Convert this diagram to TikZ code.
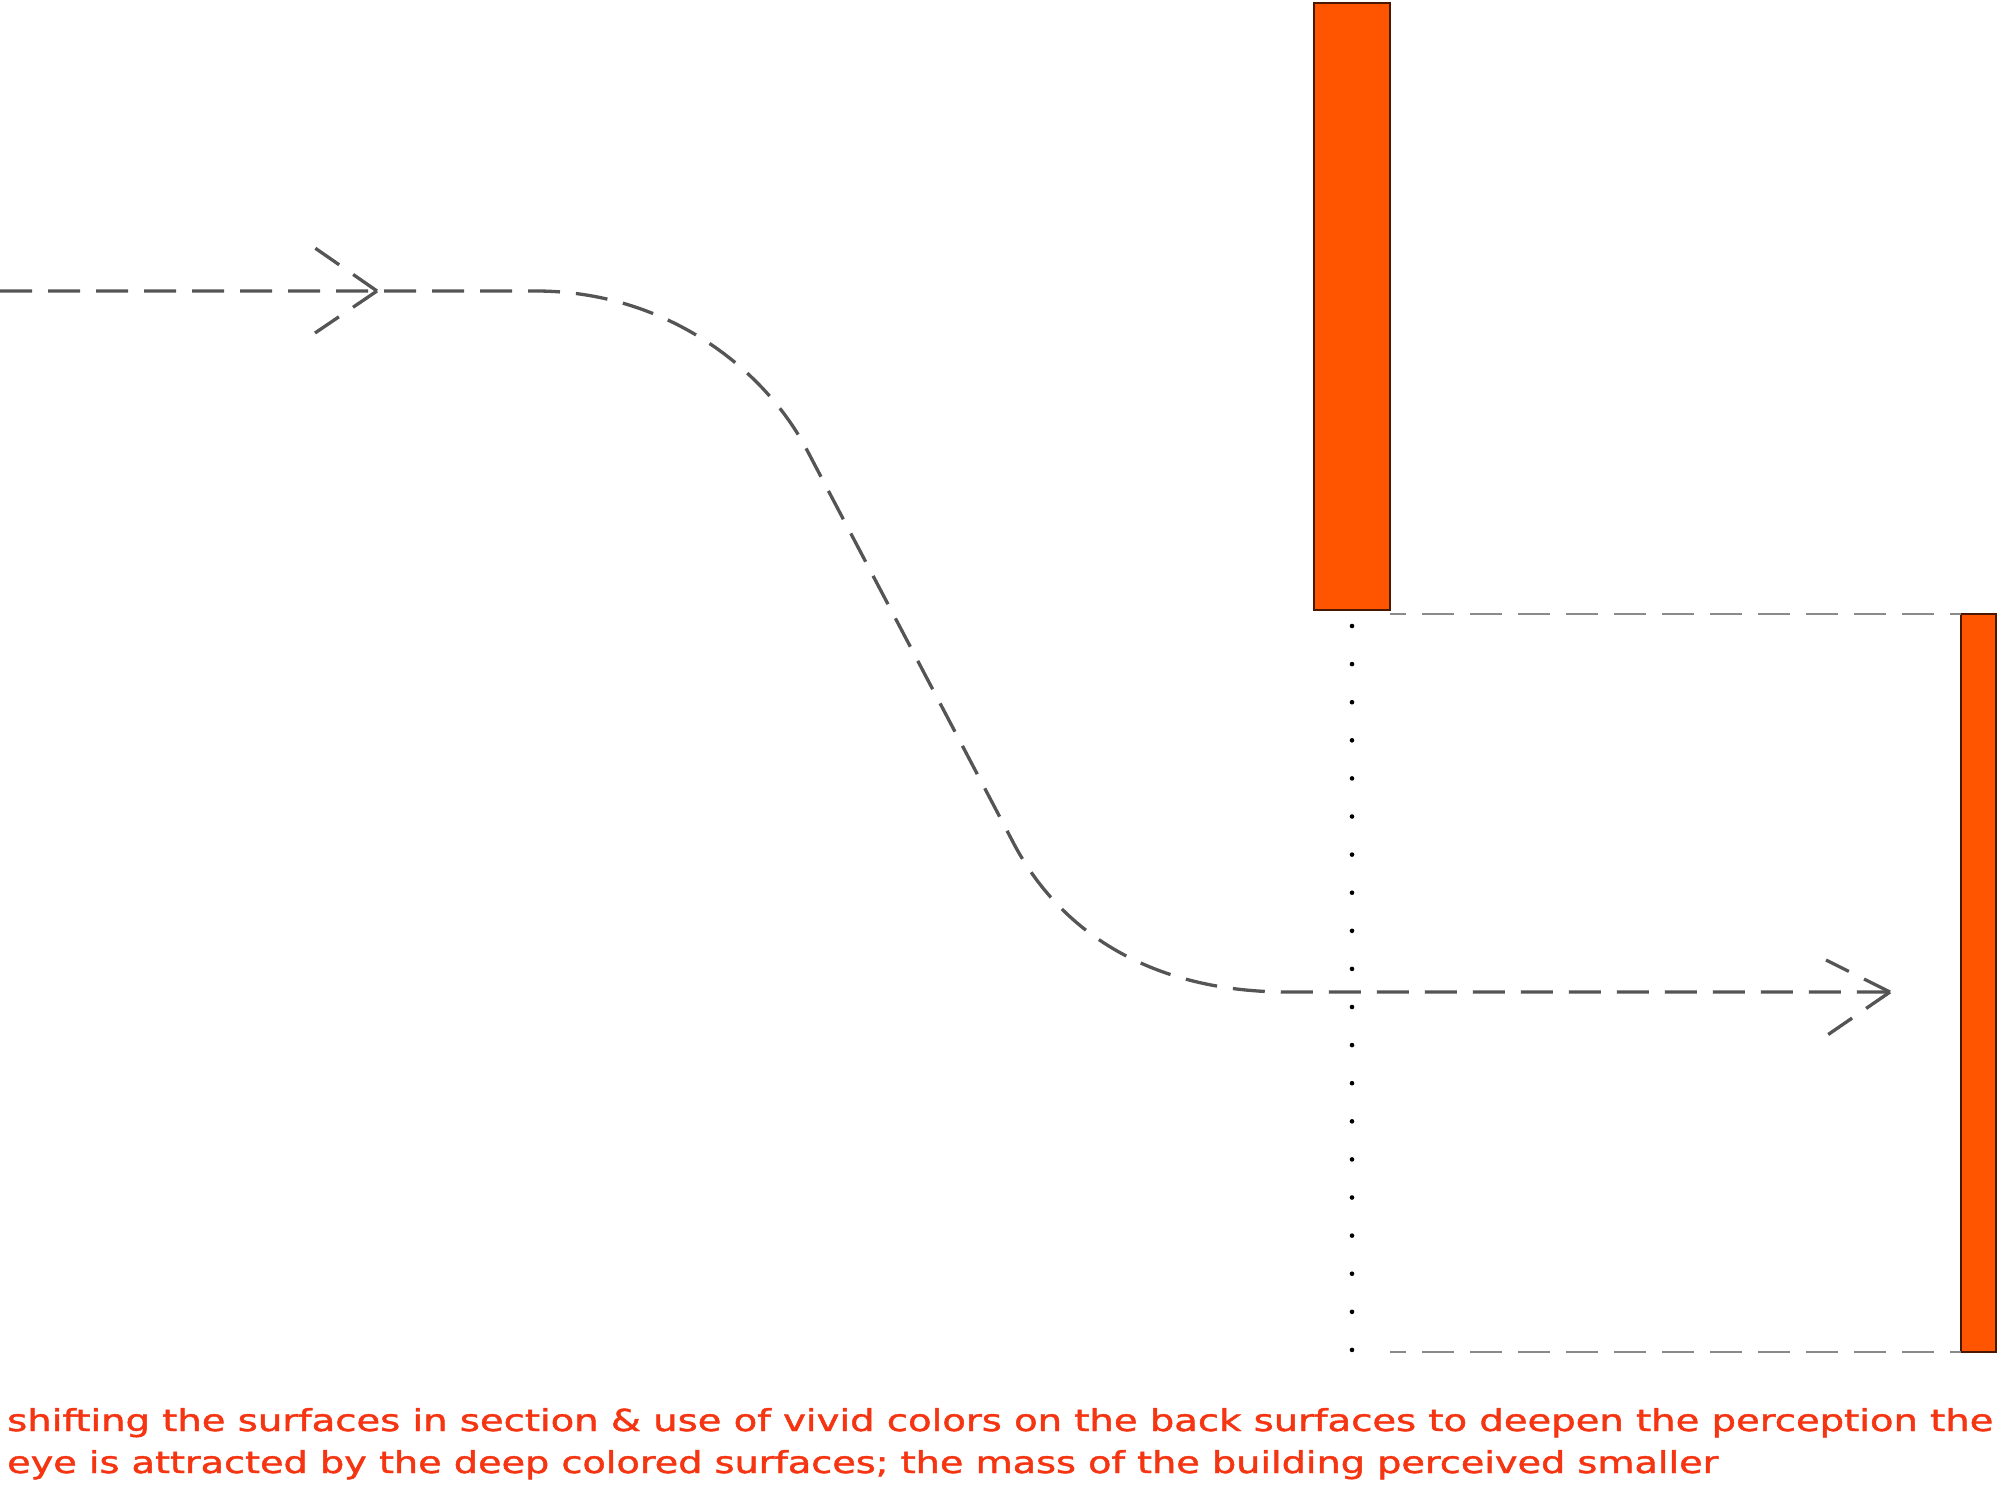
\documentclass[tikz,border=0pt]{standalone}
\usepackage{fontspec}
\newfontfamily\capfont[FakeBold=1.3]{DejaVu Sans}
\definecolor{vivid}{HTML}{FF5500}
\definecolor{rim}{HTML}{4A1800}
\definecolor{pathgray}{HTML}{555555}
\definecolor{guidegray}{HTML}{8A8A8A}
\definecolor{captext}{RGB}{245,52,18}
\tikzset{
  wall/.style={fill=vivid, draw=rim, line width=1.3pt},
  route/.style={draw=pathgray, line width=3.3pt, dash pattern=on 32pt off 16pt},
  tipline/.style={draw=pathgray, line width=3.3pt, dash pattern=on 29pt off 17pt},
  guide/.style={draw=guidegray, line width=1.5pt, dash pattern=on 32pt off 16pt, dash phase=16pt},
  dotmark/.style={fill=black},
  caption/.style={anchor=base west, inner sep=0pt, text=captext, font=\capfont}
}
\begin{document}
\begin{tikzpicture}[x=1pt,y=-1pt]
\useasboundingbox (0,0) rectangle (2000,1484);
% walls
\draw[wall] (1314,3) rectangle (1390,610);
\draw[wall] (1961,614) rectangle (1996,1352);
% guide lines
\coordinate (g1a) at (1390,614);
\coordinate (g1b) at (1961,614);
\coordinate (g2a) at (1390,1352);
\coordinate (g2b) at (1961,1352);
\draw[guide] (g1a) -- (g1b);
\draw[guide] (g2a) -- (g2b);
% dotted line
\foreach \i in {0,...,19} {
  \fill[dotmark] (1352,626+38.1*\i) circle (2.3pt);
}
% route
\coordinate (s) at (0,291);
\coordinate (c1) at (536,291);
\coordinate (c2) at (808,452);
\coordinate (c3) at (1014,844);
\coordinate (c4) at (1288,992);
\coordinate (e) at (1888,992);
\draw[route] (s) -- (c1) .. controls (665,291) and (765,368) .. (c2) -- (c3)
  .. controls (1060,931) and (1150,992) .. (c4) -- (e);
% arrowheads
\coordinate (t1) at (377,291);
\coordinate (t1a) at (315,248);
\coordinate (t1b) at (315,333);
\draw[tipline] (t1) -- (t1a);
\draw[tipline] (t1) -- (t1b);
\coordinate (t2) at (1890,992);
\coordinate (t2a) at (1826,960);
\coordinate (t2b) at (1826,1036);
\draw[tipline] (t2) -- (t2a);
\draw[tipline] (t2) -- (t2b);
% caption
\node[caption] (cap1) at (7,1431) {\resizebox{1986pt}{23pt}{shifting the surfaces in section \& use of vivid colors on the back surfaces to deepen the perception the}};
\node[caption] (cap2) at (7,1473) {\resizebox{1711pt}{23pt}{eye is attracted by the deep colored surfaces; the mass of the building perceived smaller}};
\end{tikzpicture}
\end{document}
